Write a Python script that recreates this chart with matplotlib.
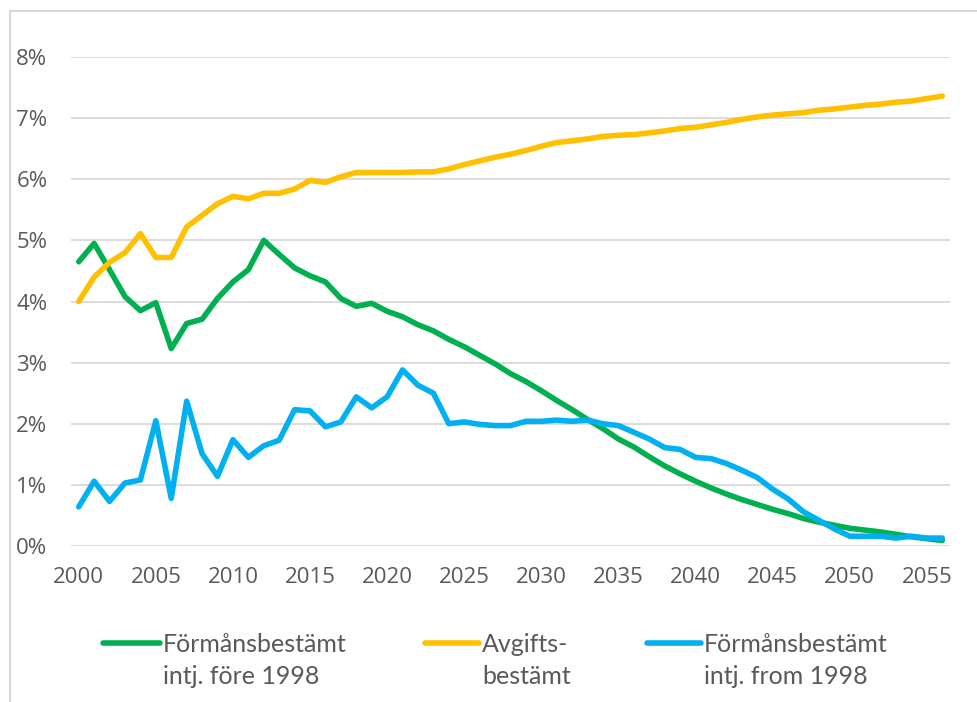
import matplotlib.pyplot as plt
from matplotlib.lines import Line2D
from matplotlib.patches import Rectangle
from matplotlib.ticker import FuncFormatter

years = list(range(2000, 2057))

# Förmånsbestämt intj. före 1998
fore_1998 = [4.65, 4.95, 4.52, 4.08, 3.85, 3.98, 3.23, 3.64, 3.71, 4.05,
             4.32, 4.52, 5.00, 4.77, 4.55, 4.42, 4.32, 4.05, 3.92, 3.97,
             3.84, 3.75, 3.62, 3.52, 3.38, 3.26, 3.12, 2.98, 2.82, 2.69,
             2.54, 2.38, 2.23, 2.07, 1.92, 1.75, 1.62, 1.46, 1.31, 1.18,
             1.06, 0.95, 0.85, 0.76, 0.68, 0.60, 0.53, 0.45, 0.39, 0.34,
             0.29, 0.26, 0.23, 0.19, 0.15, 0.12, 0.09]

# Avgiftsbestämt
avgift = [4.00, 4.40, 4.64, 4.80, 5.11, 4.72, 4.72, 5.22, 5.41, 5.60,
          5.72, 5.68, 5.77, 5.77, 5.84, 5.98, 5.95, 6.04, 6.11, 6.11,
          6.11, 6.11, 6.12, 6.12, 6.17, 6.24, 6.30, 6.36, 6.41, 6.47,
          6.54, 6.60, 6.63, 6.66, 6.70, 6.72, 6.73, 6.76, 6.79, 6.83,
          6.85, 6.89, 6.93, 6.98, 7.02, 7.05, 7.07, 7.09, 7.13, 7.15,
          7.18, 7.21, 7.23, 7.26, 7.28, 7.32, 7.36]

# Förmånsbestämt intj. from 1998
from_1998 = [0.64, 1.06, 0.73, 1.03, 1.08, 2.05, 0.78, 2.37, 1.51, 1.14,
             1.74, 1.45, 1.64, 1.73, 2.23, 2.21, 1.95, 2.03, 2.44, 2.26,
             2.44, 2.88, 2.63, 2.50, 2.00, 2.03, 1.99, 1.97, 1.97, 2.04,
             2.04, 2.06, 2.04, 2.06, 2.00, 1.97, 1.86, 1.75, 1.61, 1.58,
             1.45, 1.43, 1.35, 1.24, 1.12, 0.93, 0.77, 0.56, 0.42, 0.28,
             0.16, 0.16, 0.16, 0.13, 0.16, 0.13, 0.13]

labels = ['Förmånsbestämt\nintj. före 1998', 'Avgifts-\nbestämt',
          'Förmånsbestämt\nintj. from 1998']
colors = ['#00B050', '#FFC000', '#00B0F0']

plt.rcParams['font.family'] = ['Open Sans', 'DejaVu Sans']

fig = plt.figure(figsize=(9.78, 7.02), dpi=100)
W, H = 978, 702
ax = fig.add_axes([71 / W, 1 - 546 / H, (950 - 71) / W, (546 - 57) / H])

for vals, c in zip([fore_1998, avgift, from_1998], colors):
    ax.plot(years, vals, color=c, lw=4, solid_joinstyle='round',
            solid_capstyle='round', zorder=3)

ax.set_xlim(1999.5, 2056.5)
ax.set_ylim(0, 8)
ax.set_yticks(range(0, 9))
ax.yaxis.set_major_formatter(FuncFormatter(lambda v, p: f'{int(v)}%'))
ax.set_xticks(range(2000, 2056, 5))
ax.grid(axis='y', color='#D9D9D9', lw=1.3, zorder=0)
for s in ax.spines.values():
    s.set_visible(False)
ax.tick_params(length=0, labelsize=16, labelcolor='#595959')
ax.tick_params(axis='x', pad=15)
ax.tick_params(axis='y', pad=17)

# outer frame (cropped on right and bottom)
fig.add_artist(Rectangle((9.5 / W, -0.1), 1.2, (1 - 10.5 / H) + 0.1,
                         transform=fig.transFigure, fill=False,
                         edgecolor='#CFCFCF', lw=1.2))

# legend
leg_x = [(103, 160), (425, 479), (647, 701)]
for (x0, x1), c, lab in zip(leg_x, colors, labels):
    fig.add_artist(Line2D([x0 / W, x1 / W], [1 - 643 / H] * 2,
                          color=c, lw=4, solid_capstyle='round'))
    fig.text((x1 + 3) / W, 1 - 633 / H, lab, ha='left', va='top',
             fontsize=18, color='#595959', family='Lato',
             linespacing=1.5)

fig.savefig('out.png', dpi=100)
